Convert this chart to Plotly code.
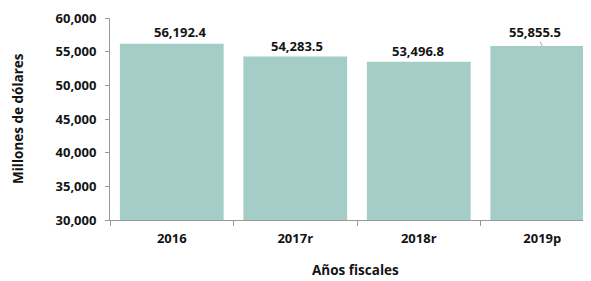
import plotly.graph_objects as go

categories = ["2016", "2017r", "2018r", "2019p"]
values = [56192.4, 54283.5, 53496.8, 55855.5]
y_ticks = [30000, 35000, 40000, 45000, 50000, 55000, 60000]

# label placement (pixel offsets of each value label from its bar top centre)
label_dx = [9, 2, -1, -7]
label_dy = [12, 10, 11, 14]
leader = [False, False, False, True]

FONT = "Open Sans"
BAR = "#a5cdc7"
AX = "#9a9a9a"
TXT = "#141414"
OFF = 8  # page body margin
W, H = 591, 281
L, T = 110 - OFF, 18 - OFF
PB = 220 - OFF           # plot bottom in figure pixels
B = H - PB
R = 0
PW, PH = W - L - R, PB - T
CAT_W = 123.5            # pixels per category in reference
x_end = -0.5 + PW / CAT_W

fig = go.Figure(go.Bar(
    x=categories, y=[v - 30000 for v in values], base=30000,
    marker=dict(color=BAR, line=dict(width=0)),
    hoverinfo="skip",
))

ann = []
for i, (c, v) in enumerate(zip(categories, values)):
    txt = f"<b>{v:,.1f}</b>"
    if leader[i]:
        ann.append(dict(x=i, y=v, xref="x", yref="y", text=txt,
                        showarrow=True, ax=label_dx[i], ay=-label_dy[i], arrowhead=0,
                        arrowwidth=1, arrowcolor="#a8a8a8", standoff=0, startstandoff=0,
                        borderpad=0,
                        font=dict(family=FONT, size=13, color=TXT)))
    else:
        ann.append(dict(x=i, y=v, xref="x", yref="y", text=txt,
                        showarrow=False, xshift=label_dx[i], yshift=label_dy[i],
                        font=dict(family=FONT, size=13, color=TXT)))

# axis titles as annotations in pixel-derived paper coordinates
ann.append(dict(x=(355 - OFF - L) / PW, y=-(270 - OFF - PB) / PH, xref="paper", yref="paper",
                text="<b>Años fiscales</b>", showarrow=False, yanchor="middle",
                font=dict(family=FONT, size=13.5, color=TXT)))
ann.append(dict(x=(18 - OFF - L) / PW, y=(PB - (119 - OFF)) / PH, xref="paper", yref="paper",
                text="<b>Millones de dólares</b>", showarrow=False, textangle=-90,
                xanchor="center", yanchor="middle",
                font=dict(family=FONT, size=13.5, color=TXT)))

fig.update_layout(
    width=W, height=H,
    margin=dict(l=L, r=R, t=T, b=B, autoexpand=False),
    paper_bgcolor="white", plot_bgcolor="white",
    showlegend=False,
    bargap=0.16,
    font=dict(family=FONT, size=13, color=TXT),
    xaxis=dict(range=[-0.5, x_end], showline=True, linecolor=AX, linewidth=1,
               ticks="outside", tickson="boundaries", ticklen=5, tickcolor=AX,
               tickvals=categories, ticktext=[f"<b>{c}</b>" for c in categories],
               tickfont=dict(family=FONT, size=13, color=TXT),
               ticklabelstandoff=6,
               showgrid=False, fixedrange=True, automargin=False),
    yaxis=dict(range=[30000, 60000], tickvals=y_ticks,
               ticktext=[f"<b>{t:,}</b>" for t in y_ticks],
               showline=True, linecolor=AX, linewidth=1,
               ticks="outside", ticklen=4, tickcolor=AX,
               tickfont=dict(family=FONT, size=13, color=TXT),
               ticklabelstandoff=6,
               showgrid=False, zeroline=False, fixedrange=True, automargin=False),
    annotations=ann,
)
fig.write_html("out.html")
